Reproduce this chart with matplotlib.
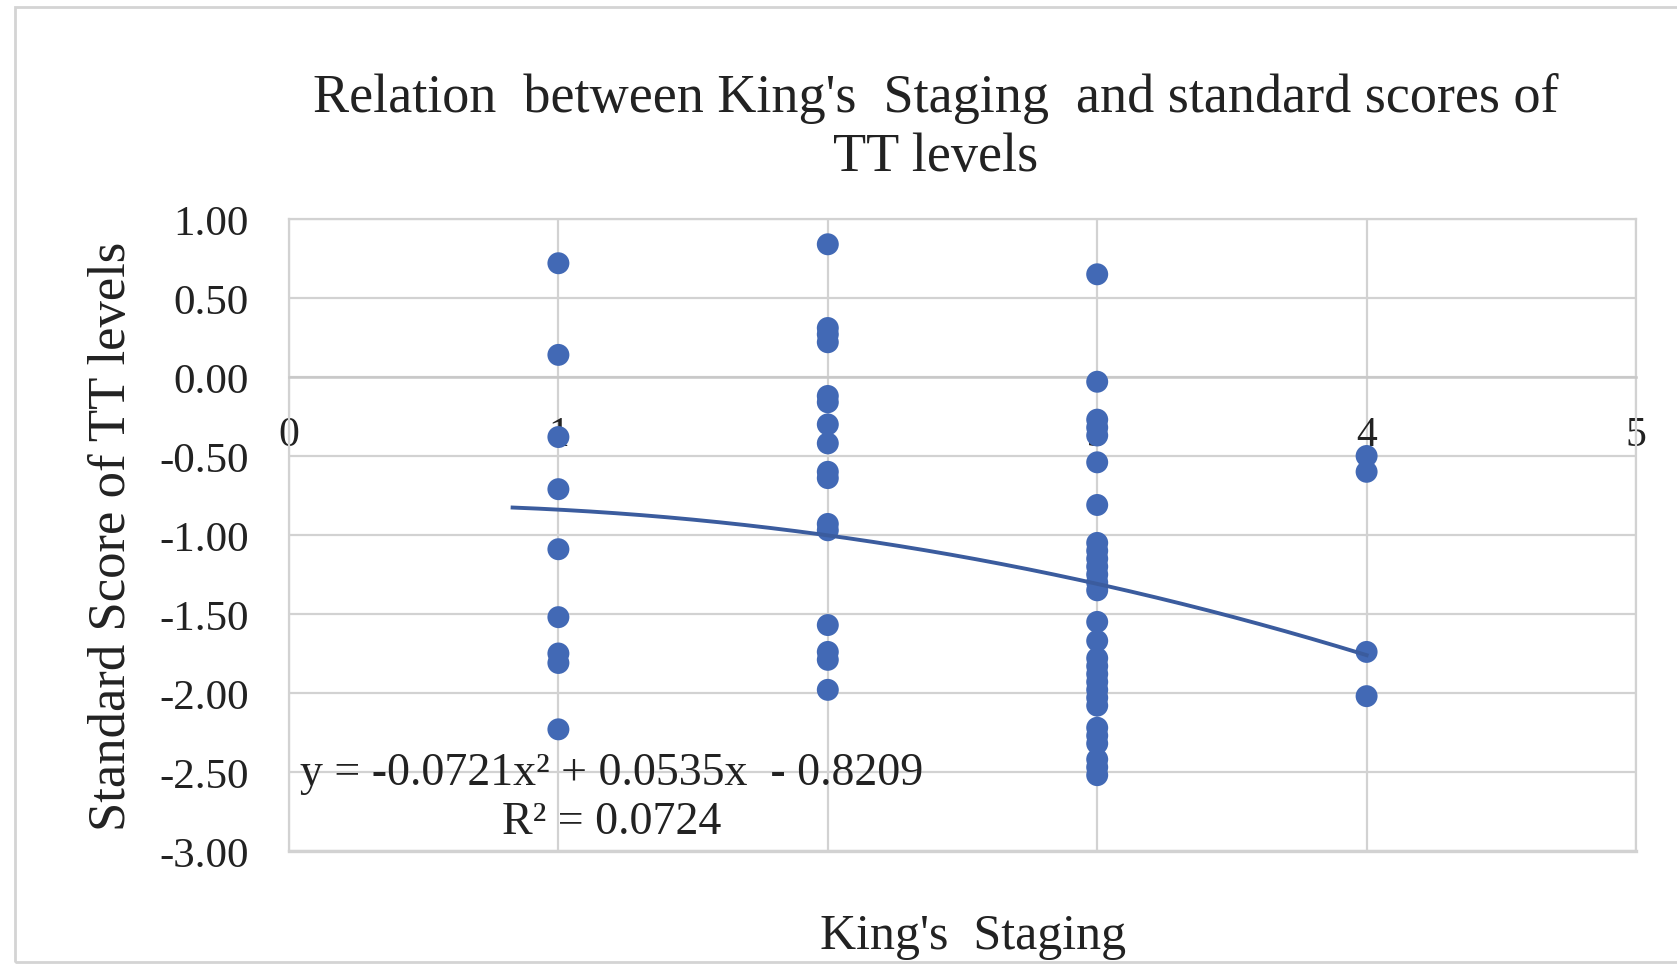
import matplotlib
matplotlib.use("Agg")
import matplotlib.pyplot as plt
import numpy as np
from matplotlib.patches import Rectangle

# Standard scores of TT levels grouped by King's stage
stage_1 = [0.72, 0.14, -0.38, -0.71, -1.09, -1.52, -1.75, -1.81, -2.23]
stage_2 = [0.84, 0.31, 0.27, 0.22, -0.12, -0.16, -0.30, -0.42, -0.60, -0.64,
           -0.93, -0.97, -1.57, -1.74, -1.79, -1.98]
stage_3 = [0.65, -0.03, -0.27, -0.32, -0.37, -0.54, -0.81, -1.05, -1.10, -1.15,
           -1.20, -1.25, -1.30, -1.35, -1.55, -1.67, -1.78, -1.83, -1.88, -1.93,
           -1.98, -2.03, -2.08, -2.22, -2.27, -2.32, -2.42, -2.47, -2.52]
stage_4 = [-0.50, -0.60, -1.74, -2.02]
stages = [1, 2, 3, 4]

# Polynomial trend line (order 2)
coef_a, coef_b, coef_c = -0.0721, 0.0535, -0.8209
r_squared = 0.0724
trend_start, trend_end = 0.83, 4.0

x_ticks = [0, 1, 2, 3, 4, 5]
y_ticks = [1.0, 0.5, 0.0, -0.5, -1.0, -1.5, -2.0, -2.5, -3.0]

plt.rcParams["font.family"] = ["Liberation Serif", "DejaVu Serif"]

W, H = 1677, 970
fig = plt.figure(figsize=(W / 100, H / 100), dpi=100)
fig.patch.set_facecolor("white")

# outer chart frame
fig.patches.append(Rectangle((15 / W, 1 - 963 / H), (1700 - 15) / W, (963 - 8) / H,
                             transform=fig.transFigure, fill=False,
                             edgecolor="#d4d4d4", linewidth=2.0))

ax = fig.add_axes([289 / W, 1 - 852 / H, (1636 - 289) / W, (852 - 220) / H])

grid_c = "#d2d2d2"
text_c = "#222222"
xs = []
ys = []
for s, vals in zip(stages, [stage_1, stage_2, stage_3, stage_4]):
    xs += [s] * len(vals)
    ys += vals

ax.scatter(xs, ys, s=250, color="#4269B5", edgecolors="none", zorder=4)

xt = np.linspace(trend_start, trend_end, 200)
ax.plot(xt, coef_a * xt ** 2 + coef_b * xt + coef_c, color="#3B5C9E",
        linewidth=2.8, zorder=5)

ax.set_xlim(0, 5)
ax.set_ylim(-3, 1)
ax.set_xticks(x_ticks)
ax.set_yticks(y_ticks)
ax.set_xticklabels([str(t) for t in x_ticks])
ax.set_yticklabels([f"{t:.2f}" for t in y_ticks])
ax.grid(True, color=grid_c, linewidth=1.6, zorder=0)
ax.set_axisbelow(True)

for side in ["left", "right", "top"]:
    ax.spines[side].set_color(grid_c)
    ax.spines[side].set_linewidth(1.6)
ax.spines["bottom"].set_position(("data", 0))
ax.spines["bottom"].set_color("#c8c8c8")
ax.spines["bottom"].set_linewidth(1.8)
ax.axhline(-3, color=grid_c, linewidth=2.4, zorder=1, clip_on=False)

ax.tick_params(axis="x", length=0, pad=28, labelsize=30)
ax.tick_params(axis="y", length=0, pad=29, labelsize=31)
for lab in ax.get_xticklabels() + ax.get_yticklabels():
    lab.set_color(text_c)

ax.set_ylabel("Standard Score of TT levels", fontsize=38, color=text_c)
ax.yaxis.set_label_coords(-(289 - 136) / (1636 - 289), 0.5)
ax.set_xlabel("King's  Staging", fontsize=36, color=text_c)
ax.xaxis.set_label_coords((973 - 289) / (1636 - 289), -(914 - 852) / (852 - 220))

fig.text(936 / W, 1 - 99 / H, "Relation  between King's  Staging  and standard scores of",
         ha="center", va="center", fontsize=39, color=text_c)
fig.text(936 / W, 1 - 158 / H, "TT levels", ha="center", va="center",
         fontsize=39, color=text_c)

eq = f"y = {coef_a:.4f}x\u00b2 + {coef_b:.4f}x  - {abs(coef_c):.4f}\nR\u00b2 = {r_squared:.4f}"
ax.text((612 - 289) / (1636 - 289), (852 - 798) / (852 - 220), eq,
        transform=ax.transAxes, ha="center", va="center", multialignment="center",
        fontsize=33, color=text_c, linespacing=1.2, zorder=6)

fig.savefig("out.png", dpi=100, facecolor="white")
